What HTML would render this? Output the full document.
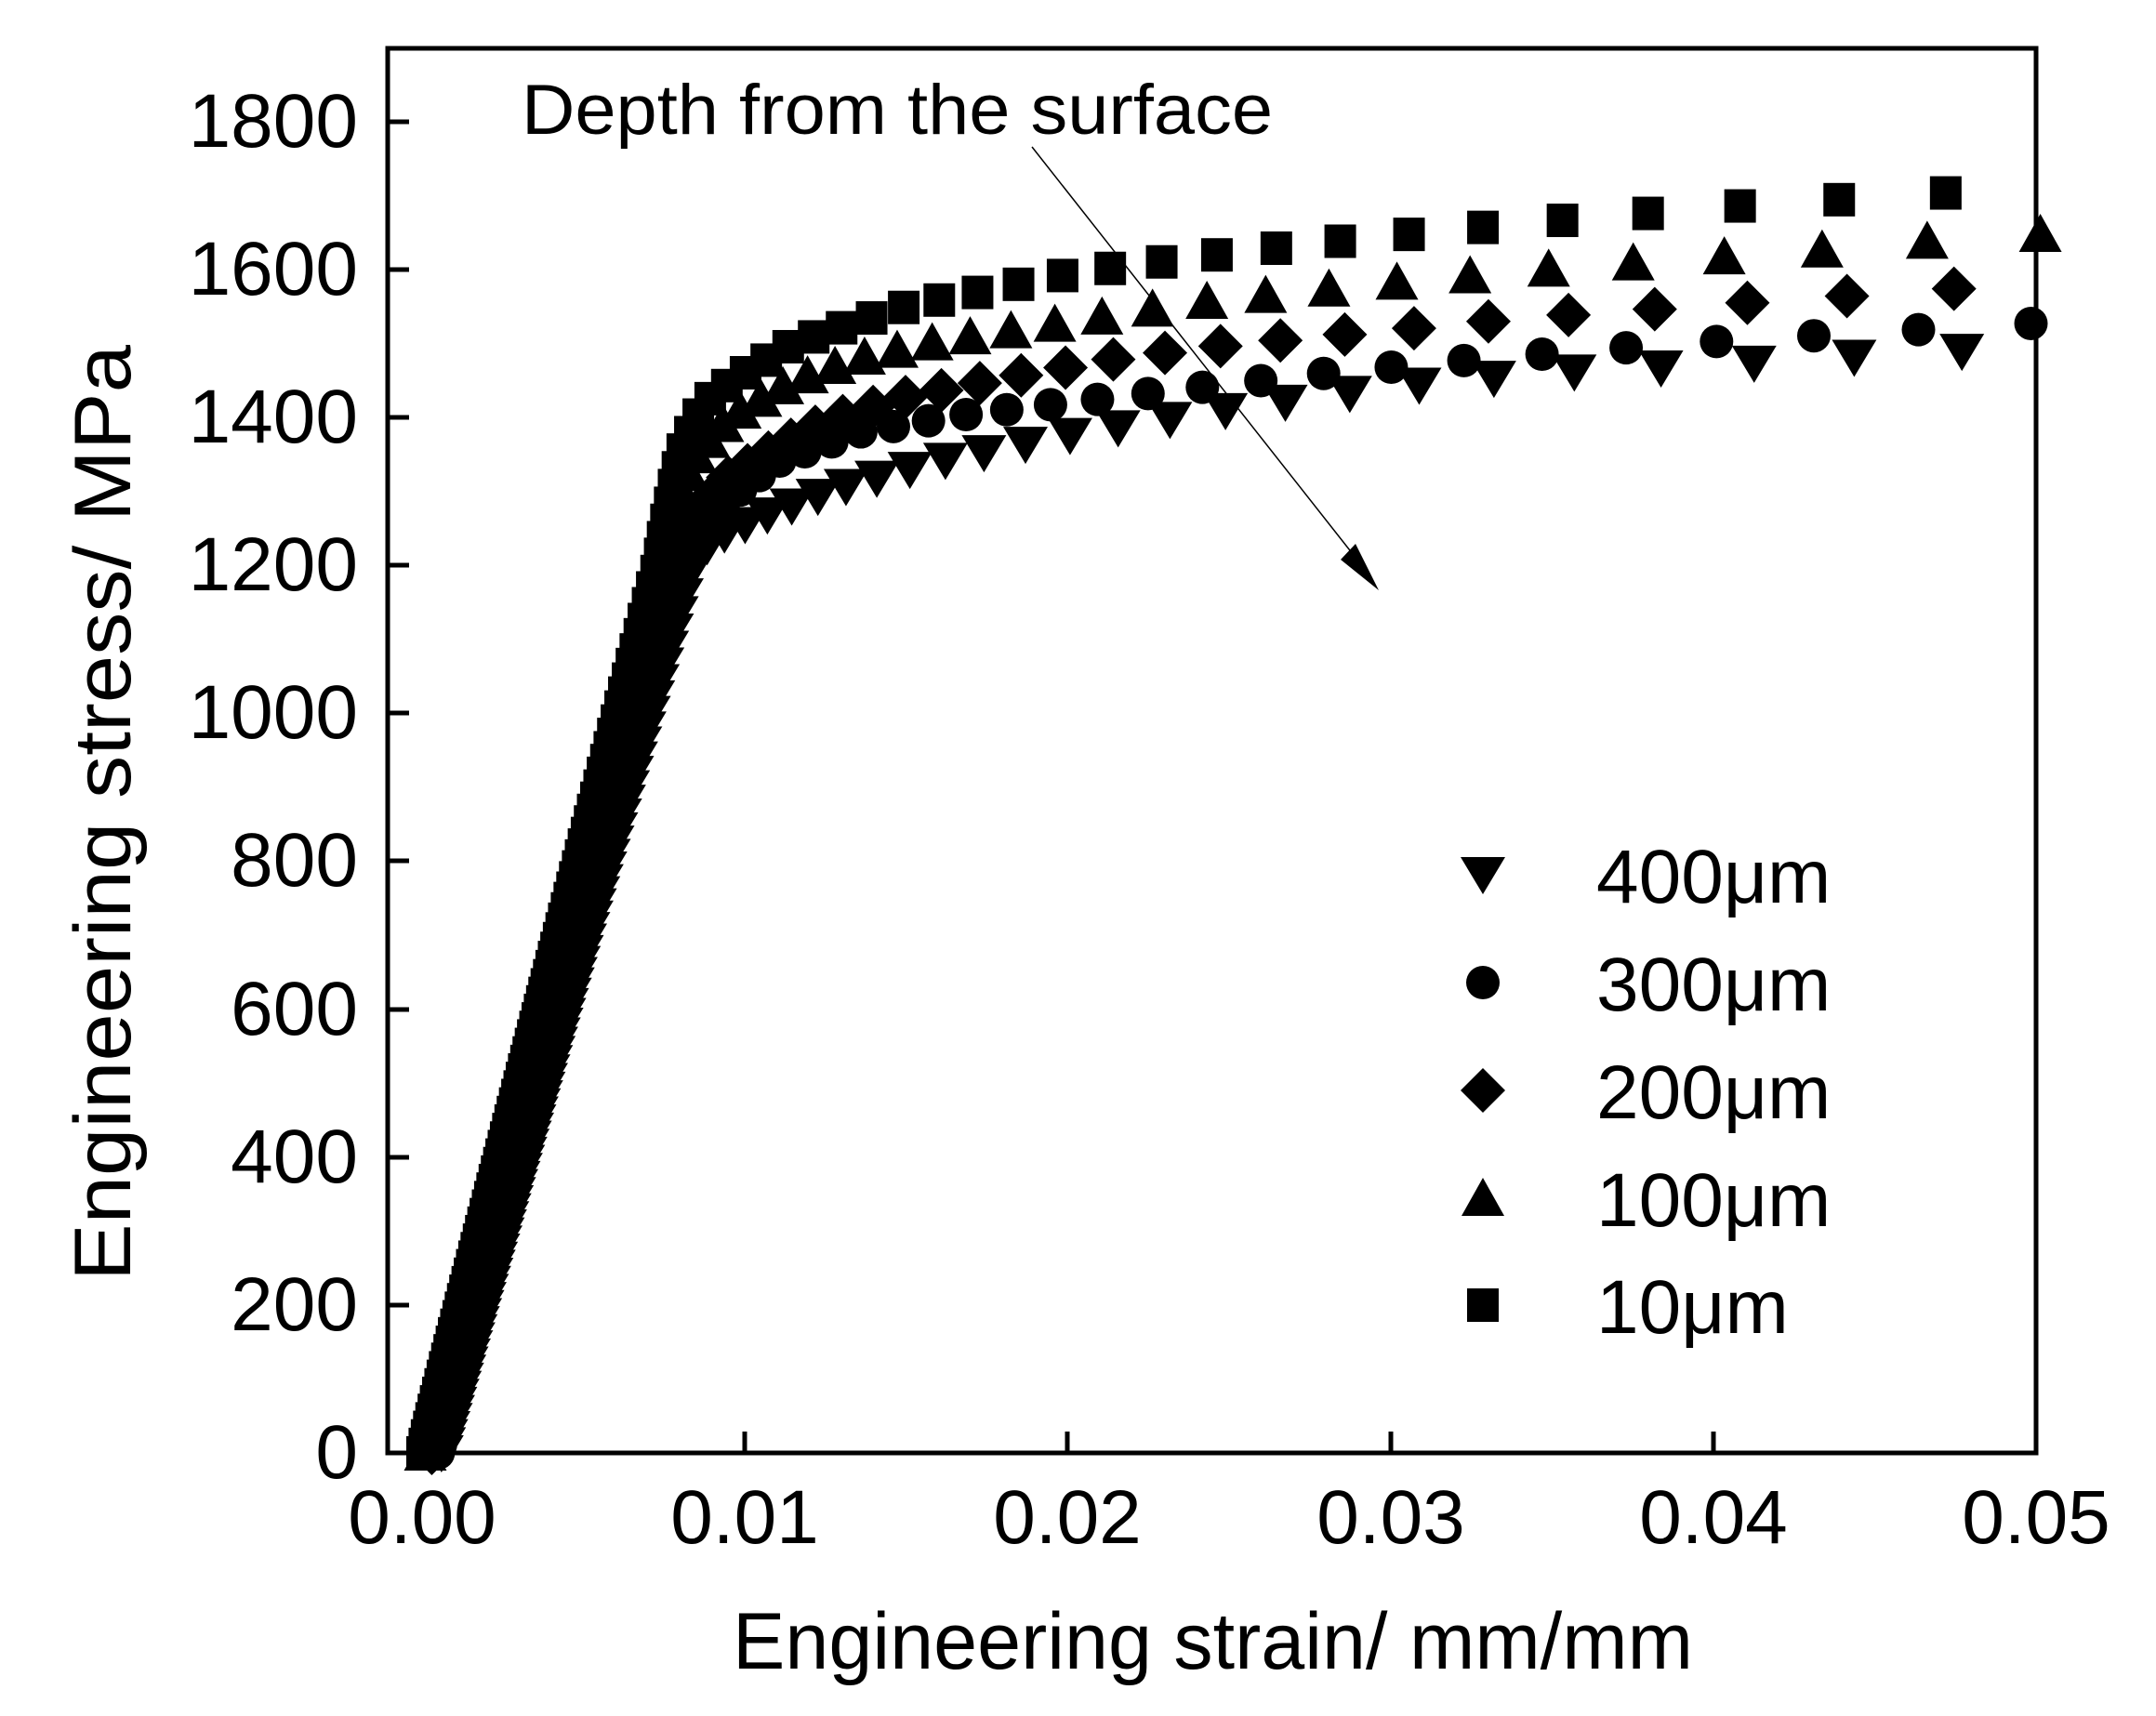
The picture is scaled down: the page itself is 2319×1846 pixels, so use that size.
<!DOCTYPE html>
<html><head><meta charset="utf-8"><style>
html,body{margin:0;padding:0;background:#fff}
svg{display:block}
text{font-family:"Liberation Sans",Arial,sans-serif;fill:#000}
</style></head><body>
<svg id="s" width="2319" height="1846" viewBox="0 0 2319 1846" xmlns="http://www.w3.org/2000/svg">
<rect width="2319" height="1846" fill="#fff"/>
<g id="data"></g>
<rect x="417" y="52" width="1773" height="1511" fill="none" stroke="#000" stroke-width="5"/>
<g stroke="#000" stroke-width="5">
<line x1="801" y1="1563" x2="801" y2="1540"/>
<line x1="1148" y1="1563" x2="1148" y2="1540"/>
<line x1="1496" y1="1563" x2="1496" y2="1540"/>
<line x1="1843" y1="1563" x2="1843" y2="1540"/>
<line x1="417" y1="1404" x2="440" y2="1404"/>
<line x1="417" y1="1245" x2="440" y2="1245"/>
<line x1="417" y1="1086" x2="440" y2="1086"/>
<line x1="417" y1="926" x2="440" y2="926"/>
<line x1="417" y1="767" x2="440" y2="767"/>
<line x1="417" y1="608" x2="440" y2="608"/>
<line x1="417" y1="449" x2="440" y2="449"/>
<line x1="417" y1="290" x2="440" y2="290"/>
<line x1="417" y1="131" x2="440" y2="131"/>
</g>
<g font-size="82" text-anchor="end">
<text x="385" y="1590">0</text>
<text x="385" y="1431">200</text>
<text x="385" y="1272">400</text>
<text x="385" y="1113">600</text>
<text x="385" y="953">800</text>
<text x="385" y="794">1000</text>
<text x="385" y="635">1200</text>
<text x="385" y="476">1400</text>
<text x="385" y="317">1600</text>
<text x="385" y="158">1800</text>
</g>
<g font-size="82" text-anchor="middle">
<text x="454" y="1660">0.00</text>
<text x="801" y="1660">0.01</text>
<text x="1148" y="1660">0.02</text>
<text x="1496" y="1660">0.03</text>
<text x="1843" y="1660">0.04</text>
<text x="2190" y="1660">0.05</text>
</g>
<text x="788" y="1795" font-size="86" textLength="1033" lengthAdjust="spacingAndGlyphs">Engineering strain/ mm/mm</text>
<text transform="translate(140,1378) rotate(-90)" font-size="86" textLength="1007" lengthAdjust="spacingAndGlyphs">Engineering stress/ MPa</text>
<text x="561" y="144" font-size="76" textLength="808" lengthAdjust="spacingAndGlyphs">Depth from the surface</text>
<line x1="1110" y1="158" x2="1470" y2="615" stroke="#000" stroke-width="1.5"/>
<polygon points="1483,635 1442,602 1458,585" fill="#000"/>
<g id="legend"></g>
<g font-size="82">
<text x="1717" y="971">400μm</text>
<text x="1717" y="1087">300μm</text>
<text x="1717" y="1203">200μm</text>
<text x="1717" y="1319">100μm</text>
<text x="1717" y="1434">10μm</text>
</g>
</svg>
<script>
var NS="http://www.w3.org/2000/svg";
function X(e){return 454+e*34725;}
function Y(s){return 1563-s*0.7956;}
function mk(type,cx,cy,g){
  var el;
  if(type==="dn"){el=document.createElementNS(NS,"polygon");el.setAttribute("points",(cx-24)+","+(cy-19)+" "+(cx+24)+","+(cy-19)+" "+cx+","+(cy+21));}
  else if(type==="up"){el=document.createElementNS(NS,"polygon");el.setAttribute("points",(cx-23)+","+(cy+19)+" "+(cx+23)+","+(cy+19)+" "+cx+","+(cy-22));}
  else if(type==="di"){el=document.createElementNS(NS,"polygon");el.setAttribute("points",cx+","+(cy-24)+" "+(cx+24)+","+cy+" "+cx+","+(cy+24)+" "+(cx-24)+","+cy);}
  else if(type==="ci"){el=document.createElementNS(NS,"circle");el.setAttribute("cx",cx);el.setAttribute("cy",cy);el.setAttribute("r",18);}
  else {el=document.createElementNS(NS,"rect");el.setAttribute("x",cx-17);el.setAttribute("y",cy-18);el.setAttribute("width",34);el.setAttribute("height",36);}
  el.setAttribute("fill","#000");g.appendChild(el);
}
function interp(pts,e){
  if(e<=pts[0][0])return pts[0][1];
  for(var i=1;i<pts.length;i++){if(e<=pts[i][0]){var a=pts[i-1],b=pts[i];return a[1]+(b[1]-a[1])*(e-a[0])/(b[0]-a[0]);}}
  var a=pts[pts.length-2],b=pts[pts.length-1];return a[1]+(b[1]-a[1])*(e-a[0])/(b[0]-a[0]);
}
var series=[
 {t:"sq",pts:[[0.0000,0],[0.0073,1200],[0.0075,1250],[0.0080,1350],[0.0085,1400],[0.0090,1430],[0.0100,1460],[0.0115,1500],[0.0150,1550],[0.0203,1596],[0.0250,1622],[0.0292,1642],[0.0343,1663],[0.0408,1686],[0.0484,1707],[0.051,1712]]},
 {t:"up",pts:[[0.0001,0],[0.0074,1200],[0.0078,1280],[0.0085,1350],[0.0095,1400],[0.0115,1450],[0.0135,1480],[0.0160,1503],[0.0197,1527],[0.0240,1556],[0.0306,1585],[0.0360,1605],[0.0429,1625],[0.0470,1640],[0.051,1650]]},
 {t:"di",pts:[[0.0003,0],[0.0078,1200],[0.0085,1270],[0.0095,1320],[0.0110,1360],[0.0125,1395],[0.0150,1428],[0.0188,1459],[0.0216,1480],[0.0250,1498],[0.0293,1515],[0.0343,1535],[0.0407,1554],[0.0484,1577],[0.051,1585]]},
 {t:"ci",pts:[[0.0005,0],[0.0080,1200],[0.0088,1260],[0.0095,1290],[0.0110,1340],[0.0135,1380],[0.0170,1405],[0.0200,1420],[0.0240,1440],[0.0280,1460],[0.0330,1480],[0.0390,1500],[0.0460,1518],[0.0510,1530]]},
 {t:"dn",pts:[[0.0006,0],[0.0083,1200],[0.0090,1235],[0.0105,1265],[0.0130,1305],[0.0160,1340],[0.0200,1375],[0.0250,1410],[0.0300,1440],[0.0350,1460],[0.0400,1470],[0.0450,1483],[0.0510,1497]]}
];
var g=document.getElementById("data");
series.forEach(function(s){
  var e=s.pts[0][0], px=X(e), py=Y(0), acc=0;
  mk(s.t,px,py,g);
  while(e<0.0502){
    e+=0.000005;
    var nx=X(e), ny=Y(interp(s.pts,e));
    acc+=Math.sqrt((nx-px)*(nx-px)+(ny-py)*(ny-py));
    px=nx;py=ny;
    var step=Math.max(9,2430*e);
    if(acc>=step){mk(s.t,nx,ny,g);acc=0;}
  }
});
var lg=document.getElementById("legend");
mk("dn",1595,941,lg);mk("ci",1595,1057,lg);mk("di",1595,1173,lg);mk("up",1595,1289,lg);mk("sq",1595,1404,lg);
</script>
</body></html>
